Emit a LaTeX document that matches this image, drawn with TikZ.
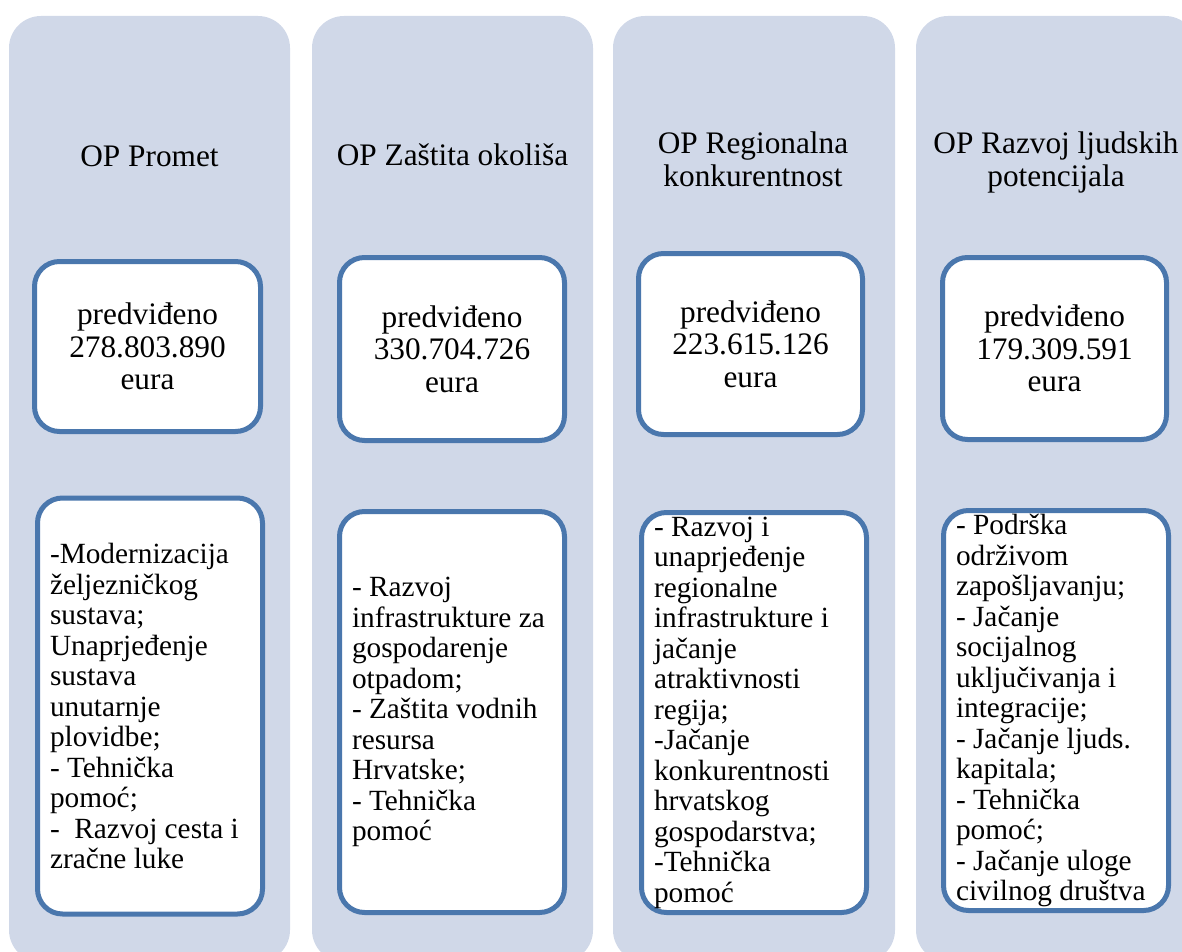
\documentclass[tikz,border=0pt]{standalone}
\usepackage{fontspec}
\setmainfont{Liberation Serif}
\usepackage{xcolor}
\usepackage{tikz}

\definecolor{panelfill}{HTML}{D0D8E8}
\definecolor{boxline}{HTML}{4A77AD}

\begin{document}
\begin{tikzpicture}[x=1pt, y=-1pt,
        panel/.style={fill=panelfill, rounded corners=32pt},
        optitle/.style={align=center, font=\fontsize{31.3}{33}\selectfont},
        amountbox/.style={draw=boxline, line width=5pt, fill=white, rounded corners=25pt,
            align=center, inner sep=0pt, font=\fontsize{31.3}{32.5}\selectfont},
        listbox/.style={draw=boxline, line width=5pt, fill=white, rounded corners=25pt,
            align=flush left, text width=200pt, inner xsep=12.5pt, inner ysep=0pt,
            font=\fontsize{29.3}{30.5}\selectfont}]
        \useasboundingbox (0, 0) rectangle (1182, 952);
        \clip (0, 0) rectangle (1182, 952);

        % panels
        \fill[panel] (9, 16) rectangle (290, 962);
        \fill[panel] (312, 16) rectangle (593, 962);
        \fill[panel] (613, 16) rectangle (895, 962);
        \fill[panel] (916, 16) rectangle (1197, 962);

        % titles
        \node[optitle, anchor=base] (promet) at (149.5, 167) {OP Promet};
        \node[optitle, anchor=base] (okolis) at (452.5, 165) {OP Zaštita okoliša};
        \node[optitle] (regija) at (753, 159) {OP Regionalna\\konkurentnost};
        \node[optitle] (ljudi) at (1056, 162) {OP Razvoj ljudskih\\potencijala};

        % amounts
        \node[amountbox, minimum width=226pt, minimum height=170pt] (iznos1) at (147.5, 346.5)
            {predviđeno\\278.803.890\\eura};
        \node[amountbox, minimum width=225pt, minimum height=183pt] (iznos2) at (452, 349)
            {predviđeno\\330.704.726\\eura};
        \node[amountbox, minimum width=224pt, minimum height=181pt] (iznos3) at (750.5, 344)
            {predviđeno\\223.615.126\\eura};
        \node[amountbox, minimum width=224pt, minimum height=182pt] (iznos4) at (1054.5, 348.5)
            {predviđeno\\179.309.591\\eura};

        % priorities
        \node[listbox, minimum height=416pt] (mjere1) at (150, 706)
            {-Modernizacija\\željezničkog\\sustava;\\Unaprjeđenje\\sustava\\unutarnje\\plovidbe;\\- Tehnička\\pomoć;\\-\ \ Razvoj cesta i\\zračne luke};
        \node[listbox, minimum height=401pt] (mjere2) at (452, 712)
            {- Razvoj\\infrastrukture za\\gospodarenje\\otpadom;\\- Zaštita vodnih\\resursa\\Hrvatske;\\- Tehnička\\pomoć};
        \node[listbox, minimum height=400pt] (mjere3) at (754, 712.5)
            {- Razvoj i\\unaprjeđenje\\regionalne\\infrastrukture i\\jačanje\\atraktivnosti\\regija;\\-Jačanje\\konkurentnosti\\hrvatskog\\gospodarstva;\\-Tehnička\\pomoć};
        \node[listbox, minimum height=400pt] (mjere4) at (1056, 710.5)
            {- Podrška\\održivom\\zapošljavanju;\\- Jačanje\\socijalnog\\uključivanja i\\integracije;\\- Jačanje ljuds.\\kapitala;\\- Tehnička\\pomoć;\\- Jačanje uloge\\civilnog društva};
    \end{tikzpicture}
\end{document}
